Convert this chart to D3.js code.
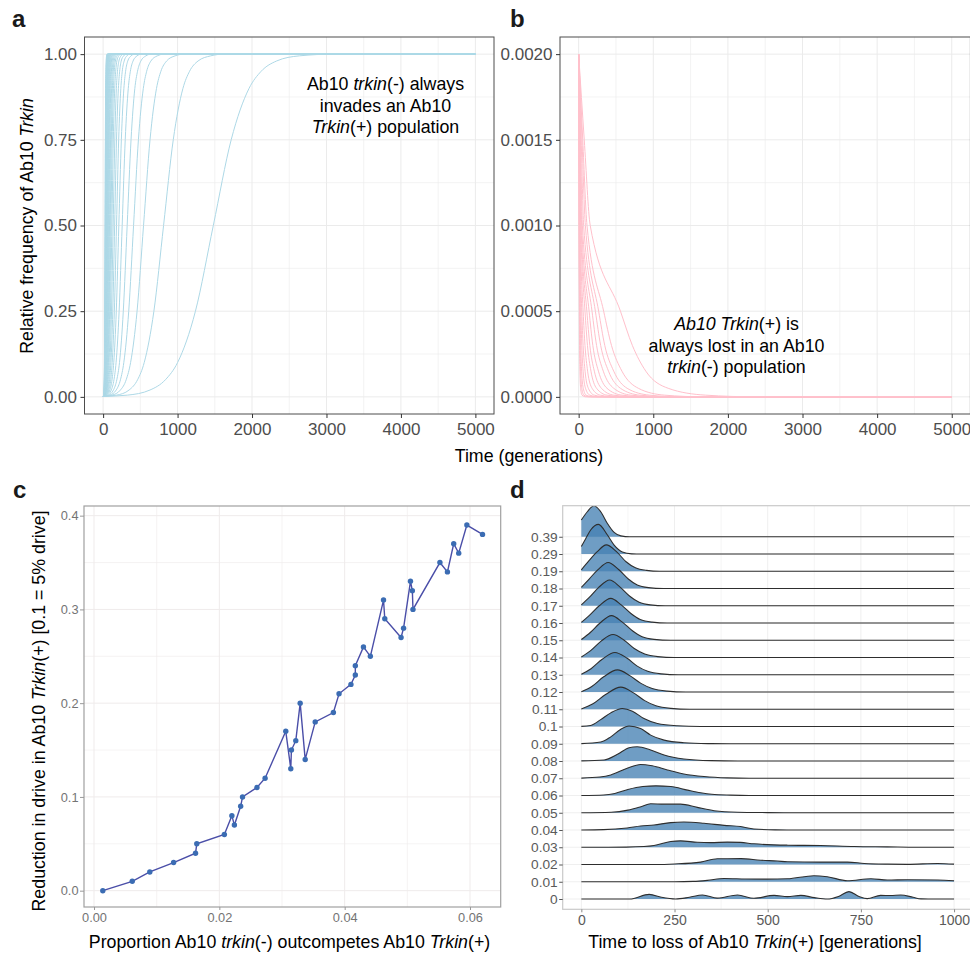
<!DOCTYPE html>
<html>
<head>
<meta charset="utf-8">
<script src="https://cdn.jsdelivr.net/npm/d3@7"></script>
<style>
  body { margin: 0; background: #fff; }
  svg { font-family: "Liberation Sans", Arial, Helvetica, sans-serif; }
  text { white-space: pre; }
</style>
</head>
<body>
<svg id="fig" width="970" height="955"></svg>
<script>
// ---------- panel a: time (generations) at which each curve reaches a frequency level
const aLevels = [0.0013, 0.005, 0.02, 0.05, 0.1, 0.25, 0.5, 0.75, 0.9, 0.95, 0.98, 0.995, 1];
const aTimes = [
  [0, 324, 630, 837, 1000, 1240, 1480, 1720, 1960, 2123, 2330, 2636, 3100],
  [0, 179, 349, 463, 552, 682, 812, 942, 1072, 1161, 1275, 1445, 1624],
  [0, 119, 233, 310, 369, 456, 543, 630, 717, 776, 853, 967, 1086],
  [0, 90, 176, 233, 278, 344, 409, 474, 540, 585, 642, 728, 818],
  [0, 71, 139, 184, 220, 271, 323, 375, 426, 462, 507, 575, 646],
  [0, 56, 110, 146, 174, 215, 256, 297, 338, 366, 402, 456, 512],
  [0, 46, 91, 120, 143, 177, 211, 245, 279, 302, 331, 376, 422],
  [0, 40, 77, 103, 122, 151, 180, 209, 238, 257, 283, 320, 360],
  [0, 34, 67, 88, 105, 130, 155, 180, 205, 222, 243, 276, 310],
  [0, 30, 58, 77, 92, 113, 135, 157, 178, 193, 212, 240, 270],
  [0, 26, 51, 67, 80, 99, 118, 137, 156, 169, 185, 210, 236],
  [0, 23, 45, 60, 71, 88, 105, 122, 139, 150, 165, 187, 210],
  [0, 21, 41, 54, 65, 80, 95, 110, 125, 136, 149, 169, 190],
  [0, 19, 37, 49, 58, 72, 86, 100, 114, 123, 135, 153, 172],
  [0, 17, 34, 44, 53, 66, 78, 90, 103, 112, 122, 139, 156],
  [0, 16, 31, 40, 48, 60, 71, 82, 94, 102, 111, 126, 142],
  [0, 14, 28, 37, 44, 55, 65, 75, 86, 93, 102, 116, 130],
  [0, 13, 26, 34, 41, 50, 60, 70, 79, 86, 94, 107, 120],
  [0, 12, 24, 31, 37, 46, 55, 64, 73, 79, 86, 98, 110],
  [0, 11, 22, 29, 35, 43, 51, 59, 67, 73, 80, 91, 102],
  [0, 10, 20, 27, 32, 39, 47, 55, 62, 67, 74, 84, 94],
  [0, 10, 19, 25, 30, 37, 44, 51, 58, 63, 69, 78, 88],
  [0, 9, 18, 23, 28, 34, 41, 48, 54, 59, 64, 73, 82],
  [0, 8, 16, 22, 26, 32, 38, 44, 50, 54, 60, 68, 76],
  [0, 8, 15, 21, 24, 30, 36, 42, 48, 51, 57, 64, 72],
  [0, 7, 15, 19, 23, 29, 34, 39, 45, 49, 53, 61, 68],
  [0, 7, 14, 18, 22, 27, 32, 37, 42, 46, 50, 57, 64],
  [0, 7, 13, 17, 20, 25, 30, 35, 40, 43, 47, 53, 60],
  [0, 6, 12, 16, 19, 24, 28, 32, 37, 40, 44, 50, 56],
  [0, 6, 11, 15, 18, 22, 26, 30, 34, 37, 41, 46, 52]
];
const tEnd = 5000;

// ---------- panel b: time at which each curve falls to a frequency level
const bLevels = [0.002, 0.0015, 0.001, 0.0005, 0.0003, 0.00015, 0.00005, 0.00001, 0];
const bTimes = [
  [0, 75, 155, 560, 720, 900, 1200, 1700, 2400],
  [0, 55, 112, 335, 440, 580, 800, 1150, 1700],
  [0, 45, 90, 268, 350, 470, 650, 950, 1400],
  [0, 34, 67, 224, 295, 400, 560, 820, 1250],
  [0, 25, 50, 179, 240, 330, 470, 700, 1100],
  [0, 20, 40, 140, 190, 265, 380, 580, 950],
  [0, 16, 32, 110, 150, 210, 305, 470, 800],
  [0, 13, 27, 85, 118, 165, 240, 380, 650],
  [0, 10, 20, 60, 85, 120, 180, 290, 500],
  [0, 8, 15, 42, 60, 86, 130, 210, 380],
  [0, 6, 11, 30, 42, 60, 92, 150, 280],
  [0, 4, 8, 20, 28, 40, 62, 100, 200],
  [0, 3, 6, 14, 19, 27, 42, 70, 150],
  [0, 2, 4, 9, 12, 17, 27, 45, 100]
];

// ---------- panel c
const cProp = [0.0014, 0.0061, 0.0089, 0.0127, 0.0162, 0.0164, 0.0208, 0.0220, 0.0224, 0.0234,
  0.0237, 0.0260, 0.0273, 0.0306, 0.0314, 0.0315, 0.0322, 0.0329, 0.0337, 0.0353,
  0.0382, 0.0391, 0.0410, 0.0417, 0.0417, 0.0430, 0.0441, 0.0462, 0.0464, 0.0490,
  0.0494, 0.0505, 0.0508, 0.0509, 0.0552, 0.0564, 0.0574, 0.0582, 0.0595, 0.0620];
const cReduction = [0, 0.01, 0.02, 0.03, 0.04, 0.05, 0.06, 0.08, 0.07, 0.09,
  0.10, 0.11, 0.12, 0.17, 0.13, 0.15, 0.16, 0.20, 0.14, 0.18,
  0.19, 0.21, 0.22, 0.23, 0.24, 0.26, 0.25, 0.31, 0.29, 0.27,
  0.28, 0.33, 0.32, 0.30, 0.35, 0.34, 0.37, 0.36, 0.39, 0.38];

// ---------- panel d: ridge heights (in row units) at times, bottom row first
const dLabels = ['0', '0.01', '0.02', '0.03', '0.04', '0.05', '0.06', '0.07', '0.08', '0.09', '0.1',
  '0.11', '0.12', '0.13', '0.14', '0.15', '0.16', '0.17', '0.18', '0.19', '0.29', '0.39'];
const dRidges = [
  [[0,0],[130,0],[182,0.27],[215,0.1],[253,0],[290,0.1],[325,0.23],[365,0.05],[419,0.23],[463,0.04],[517,0.21],[553,0.14],[589,0.21],[625,0.08],[660,0],[690,0.15],[718,0.43],[745,0.15],[767,0.02],[803,0.21],[830,0.2],[857,0.23],[890,0.1],[911,0.01],[950,0],[1000,0]],
  [[0,0],[250,0],[300,0.02],[338,0.08],[383,0.19],[440,0.16],[499,0.15],[553,0.17],[624,0.35],[660,0.29],[714,0.06],[777,0.17],[821,0.1],[875,0.12],[956,0.1],[1000,0.06]],
  [[0,0],[200,0],[250,0.03],[320,0.14],[365,0.33],[428,0.34],[481,0.25],[526,0.2],[553,0.16],[642,0.14],[714,0.14],[759,0.06],[821,0.02],[875,0.01],[956,0.06],[1000,0.02]],
  [[0,0],[120,0.01],[168,0.04],[195,0.1],[240,0.33],[266,0.37],[311,0.29],[347,0.27],[392,0.3],[427,0.28],[463,0.2],[553,0.12],[642,0.1],[732,0.04],[821,0.02],[900,0],[1000,0]],
  [[0,0],[60,0.02],[123,0.12],[159,0.23],[195,0.29],[240,0.43],[275,0.46],[329,0.39],[383,0.27],[427,0.2],[463,0.06],[520,0.01],[600,0],[1000,0]],
  [[0,0],[80,0.03],[125,0.15],[160,0.35],[186,0.52],[222,0.5],[266,0.5],[311,0.31],[356,0.12],[420,0.03],[500,0.01],[560,0],[1000,0]],
  [[0,0],[60,0.03],[90,0.12],[125,0.35],[165,0.52],[200,0.56],[240,0.52],[285,0.31],[320,0.16],[350,0.07],[400,0.02],[450,0],[1000,0]],
  [[0,0.01],[50,0.07],[79,0.19],[123,0.58],[159,0.8],[190,0.72],[231,0.48],[275,0.25],[329,0.1],[392,0.02],[450,0],[1000,0]],
  [[0,0.01],[61,0.06],[97,0.39],[128,0.77],[150,0.83],[186,0.64],[222,0.35],[275,0.12],[347,0.02],[420,0],[1000,0]],
  [[0,0.01],[52,0.1],[79,0.4],[105,0.83],[128,1.03],[159,0.88],[186,0.5],[222,0.21],[275,0.06],[340,0.01],[400,0],[1000,0]],
  [[0,0.01],[25,0.06],[52,0.4],[79,0.79],[110,1.04],[137,0.89],[168,0.46],[204,0.17],[257,0.04],[320,0],[1000,0]],
  [[0,0.02],[30,0.3],[65,0.85],[106,1.28],[140,0.95],[170,0.5],[200,0.2],[240,0.05],[290,0],[1000,0]],
  [[0,0.02],[28,0.32],[60,0.88],[97,1.28],[130,0.95],[160,0.5],[190,0.2],[230,0.05],[280,0],[1000,0]],
  [[0,0.03],[26,0.35],[56,0.9],[90,1.29],[122,0.97],[150,0.5],[178,0.2],[215,0.05],[260,0],[1000,0]],
  [[0,0.03],[25,0.4],[53,0.95],[85,1.33],[115,1.0],[142,0.52],[170,0.2],[205,0.05],[250,0],[1000,0]],
  [[0,0.04],[24,0.45],[50,1.0],[81,1.43],[110,1.05],[137,0.55],[163,0.2],[195,0.05],[240,0],[1000,0]],
  [[0,0.04],[23,0.47],[48,1.0],[79,1.43],[107,1.05],[133,0.55],[158,0.2],[190,0.05],[230,0],[1000,0]],
  [[0,0.05],[22,0.5],[46,1.05],[76,1.49],[104,1.08],[130,0.55],[155,0.2],[185,0.05],[225,0],[1000,0]],
  [[0,0.06],[21,0.55],[44,1.08],[72,1.51],[100,1.1],[126,0.55],[150,0.2],[180,0.05],[220,0],[1000,0]],
  [[0,0.08],[20,0.6],[42,1.12],[67,1.53],[95,1.12],[120,0.55],[145,0.2],[175,0.05],[210,0],[1000,0]],
  [[0,0.43],[12,0.9],[25,1.39],[46,1.72],[70,1.1],[88,0.52],[110,0.12],[135,0.01],[160,0],[1000,0]],
  [[0,0.97],[16,1.45],[34,1.8],[52,1.45],[70,0.77],[88,0.25],[106,0.05],[130,0],[1000,0]]
];

const svg = d3.select('#fig');

// panel frames
const A = {x0: 84.5, x1: 494, y0: 37, y1: 414};
const B = {x0: 560, x1: 970.4, y0: 37, y1: 414};
const C = {x0: 84, x1: 500.7, y0: 506, y1: 907};
const D = {x0: 562.7, x1: 972.7, y0: 505.7, y1: 909.3};
const titleSize = 17.8;

function clip(id, f) {
  svg.append('clipPath').attr('id', id).append('rect')
    .attr('x', f.x0).attr('y', f.y0).attr('width', f.x1 - f.x0).attr('height', f.y1 - f.y0);
}

function grid(x, y, f, xs, ys, color, major) {
  const g = svg.append('g');
  xs.forEach(v => g.append('line')
    .attr('x1', x(v)).attr('x2', x(v)).attr('y1', f.y0).attr('y2', f.y1)
    .attr('stroke', color).attr('stroke-width', major(v, 'x') ? 1 : 0.6));
  ys.forEach(v => g.append('line')
    .attr('y1', y(v)).attr('y2', y(v)).attr('x1', f.x0).attr('x2', f.x1)
    .attr('stroke', color).attr('stroke-width', major(v, 'y') ? 1 : 0.6));
}

function frame(f, color, w) {
  svg.append('rect').attr('x', f.x0).attr('y', f.y0)
    .attr('width', f.x1 - f.x0).attr('height', f.y1 - f.y0)
    .attr('fill', 'none').attr('stroke', color).attr('stroke-width', w);
}

function styleAxis(g, size, fill, tick) {
  g.attr('font-family', null).attr('font-size', null);
  g.select('.domain').remove();
  g.selectAll('.tick line').attr('stroke', tick);
  g.selectAll('.tick text').attr('fill', fill).style('font-size', size + 'px');
}

function rich(x, y, parts, {size = titleSize, anchor = 'middle', rotate = false, fill = '#000'} = {}) {
  const t = svg.append('text')
    .attr('text-anchor', anchor).attr('fill', fill).style('font-size', size + 'px');
  if (rotate) t.attr('transform', `translate(${x},${y}) rotate(-90)`);
  else t.attr('x', x).attr('y', y);
  parts.forEach(([s, it]) => t.append('tspan').text(s).attr('font-style', it ? 'italic' : null));
  return t;
}

function panelLabel(x, y, s) {
  svg.append('text').attr('x', x).attr('y', y).text(s)
    .attr('font-weight', 'bold').style('font-size', '24px').attr('fill', '#1a1a1a');
}

// ================= panel a =================
const ax = d3.scaleLinear([-250, 5250], [A.x0, A.x1]);
const ay = d3.scaleLinear([-0.05, 1.05], [A.y1, A.y0]);
grid(ax, ay, A, d3.range(0, 5001, 500), d3.range(0, 1.001, 0.125), '#ebebeb',
  (v, k) => k === 'x' ? v % 1000 === 0 : Math.abs((v * 4) - Math.round(v * 4)) < 1e-6);
clip('clipA', A);
const aLine = d3.line().x(d => ax(d[0])).y(d => ay(d[1])).curve(d3.curveMonotoneX);
svg.append('g').attr('clip-path', 'url(#clipA)')
  .selectAll('path').data(aTimes).join('path')
  .attr('d', row => aLine(aLevels.map((lv, i) => [row[i], lv]).concat([[tEnd, 1]])))
  .attr('fill', 'none').attr('stroke', '#add8e6').attr('stroke-width', 1);
frame(A, '#4d4d4d', 1);
styleAxis(svg.append('g').attr('transform', `translate(0,${A.y1})`)
  .call(d3.axisBottom(ax).tickValues(d3.range(0, 5001, 1000)).tickFormat(d3.format('d')).tickSize(4).tickPadding(4.5)),
  17, '#4d4d4d', '#333');
styleAxis(svg.append('g').attr('transform', `translate(${A.x0},0)`)
  .call(d3.axisLeft(ay).tickValues([0, 0.25, 0.5, 0.75, 1]).tickFormat(d3.format('.2f')).tickSize(4).tickPadding(3.5)),
  17, '#4d4d4d', '#333');
rich(385.5, 89.5, [['Ab10 ', 0], ['trkin', 1], ['(-) always', 0]]);
rich(385.5, 111.5, [['invades an Ab10', 0]]);
rich(385.5, 132.5, [['Trkin', 1], ['(+) population', 0]]);
rich(33, 226, [['Relative frequency of Ab10 ', 0], ['Trkin', 1]], {rotate: true});
panelLabel(12, 27, 'a');

// ================= panel b =================
const bx = d3.scaleLinear([-250, 5250], [B.x0, B.x1]);
const by = d3.scaleLinear([-0.0001, 0.0021], [B.y1, B.y0]);
grid(bx, by, B, d3.range(0, 5001, 500), d3.range(0, 0.00201, 0.00025), '#ebebeb',
  (v, k) => k === 'x' ? v % 1000 === 0 : Math.abs(v * 2000 - Math.round(v * 2000)) < 1e-6);
clip('clipB', B);
const bLine = d3.line().x(d => bx(d[0])).y(d => by(d[1])).curve(d3.curveMonotoneX);
svg.append('g').attr('clip-path', 'url(#clipB)')
  .selectAll('path').data(bTimes).join('path')
  .attr('d', row => bLine(bLevels.map((lv, i) => [row[i], lv]).concat([[tEnd, 0]])))
  .attr('fill', 'none').attr('stroke', '#ffc0cb').attr('stroke-width', 1);
frame(B, '#4d4d4d', 1);
styleAxis(svg.append('g').attr('transform', `translate(0,${B.y1})`)
  .call(d3.axisBottom(bx).tickValues(d3.range(0, 5001, 1000)).tickFormat(d3.format('d')).tickSize(4).tickPadding(4.5)),
  17, '#4d4d4d', '#333');
styleAxis(svg.append('g').attr('transform', `translate(${B.x0},0)`)
  .call(d3.axisLeft(by).tickValues([0, 0.0005, 0.001, 0.0015, 0.002]).tickFormat(d3.format('.4f')).tickSize(4).tickPadding(3.5)),
  17, '#4d4d4d', '#333');
rich(736.5, 330, [['Ab10 Trkin', 1], ['(+) is', 0]]);
rich(736.5, 351.5, [['always lost in an Ab10', 0]]);
rich(736.5, 373, [['trkin', 1], ['(-) population', 0]]);
rich(529, 461.5, [['Time (generations)', 0]]);
panelLabel(510, 27, 'b');

// ================= panel c =================
const cx = d3.scaleLinear([-0.0016, 0.0649], [C.x0, C.x1]);
const cy = d3.scaleLinear([-0.0174, 0.4103], [C.y1, C.y0]);
grid(cx, cy, C, d3.range(0, 0.0601, 0.01), d3.range(0, 0.401, 0.05), '#efebeb',
  (v, k) => k === 'x' ? Math.abs(v * 50 - Math.round(v * 50)) < 1e-6 : Math.abs(v * 10 - Math.round(v * 10)) < 1e-6);
const cData = cProp.map((p, i) => [p, cReduction[i]]);
svg.append('path').datum(cData)
  .attr('d', d3.line().x(d => cx(d[0])).y(d => cy(d[1])))
  .attr('fill', 'none').attr('stroke', '#4a4ea8').attr('stroke-width', 1.4);
svg.append('g').selectAll('circle').data(cData).join('circle')
  .attr('cx', d => cx(d[0])).attr('cy', d => cy(d[1])).attr('r', 2.7)
  .attr('fill', '#3b6cb3');
frame(C, '#a0a0a0', 1.2);
styleAxis(svg.append('g').attr('transform', `translate(0,${C.y1})`)
  .call(d3.axisBottom(cx).tickValues([0, 0.02, 0.04, 0.06]).tickFormat(d3.format('.2f')).tickSize(3).tickPadding(3)),
  12.8, '#747474', '#999');
styleAxis(svg.append('g').attr('transform', `translate(${C.x0},0)`)
  .call(d3.axisLeft(cy).tickValues([0, 0.1, 0.2, 0.3, 0.4]).tickFormat(d3.format('.1f')).tickSize(4).tickPadding(1.5)),
  12.8, '#747474', '#999');
rich(45, 711, [['Reduction in drive in Ab10 ', 0], ['Trkin', 1], ['(+) [0.1 = 5% drive]', 0]], {rotate: true});
rich(289.5, 948, [['Proportion Ab10 ', 0], ['trkin', 1], ['(-) outcompetes Ab10 ', 0], ['Trkin', 1], ['(+)', 0]]);
panelLabel(13, 498, 'c');

// ================= panel d =================
const dx = d3.scaleLinear([-50, 1050], [D.x0, D.x1]);
const dy = d3.scalePoint(dLabels, [899, 536.75]);
const rowH = dy.step();
grid(dx, v => v, D, d3.range(0, 1001, 125), dLabels.map(l => dy(l)), '#efefef',
  (v, k) => k === 'x' ? v % 250 === 0 : true);
clip('clipD', D);
const dg = svg.append('g').attr('clip-path', 'url(#clipD)');
const ridgeArea = d3.area().curve(d3.curveMonotoneX);
const ridgeLine = d3.line().curve(d3.curveMonotoneX);
d3.range(dLabels.length - 1, -1, -1).forEach(i => {
  const base = dy(dLabels[i]);
  const pts = dRidges[i];
  dg.append('path')
    .attr('d', ridgeArea.x(d => dx(d[0])).y0(base).y1(d => base - d[1] * rowH)(pts))
    .attr('fill', '#4682b4').attr('fill-opacity', 0.78);
  dg.append('path')
    .attr('d', ridgeLine.x(d => dx(d[0])).y(d => base - d[1] * rowH)(pts))
    .attr('fill', 'none').attr('stroke', '#2e2e2e').attr('stroke-width', 1.1);
});
frame(D, '#c9c9c9', 1.2);
styleAxis(svg.append('g').attr('transform', `translate(0,${D.y1})`)
  .call(d3.axisBottom(dx).tickValues([0, 250, 500, 750, 1000]).tickFormat(d3.format('d')).tickSize(3).tickPadding(3)),
  14, '#5a5a5a', '#888');
styleAxis(svg.append('g').attr('transform', `translate(${D.x0},0)`)
  .call(d3.axisLeft(dy).tickSize(3.5).tickPadding(1.5)),
  13.7, '#5a5a5a', '#555');
rich(755, 948, [['Time to loss of Ab10 ', 0], ['Trkin', 1], ['(+) [generations]', 0]]);
panelLabel(510, 498, 'd');
</script>
</body>
</html>
